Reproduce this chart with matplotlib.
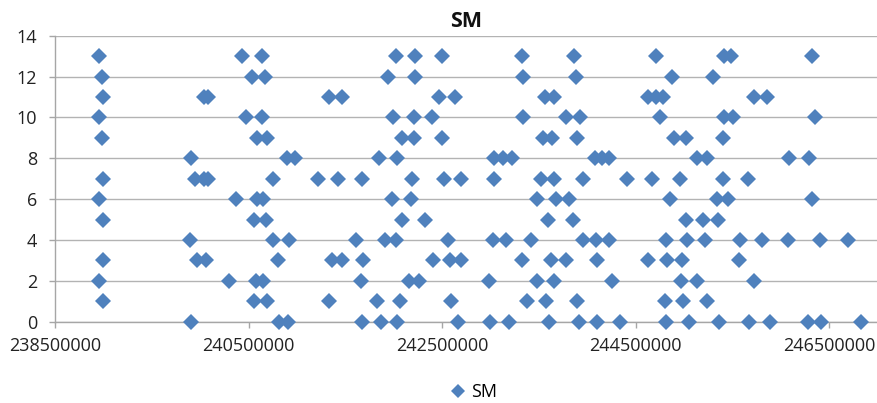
import matplotlib
matplotlib.use("Agg")
import matplotlib.pyplot as plt
from matplotlib.ticker import FixedLocator, FuncFormatter

# Positions (bp) of SM points at each y level
sm_y13 = [238955000, 240433000, 240640000, 242025000, 242221000, 242500000, 243327000,
          243864000, 244712000, 245415000, 245487000, 246324000]
sm_y12 = [238986000, 240536000, 240671000, 241942000, 242221000, 243337000, 243885000,
          244877000, 245301000]
sm_y11 = [238996000, 240040000, 240081000, 241332000, 241466000, 242469000, 242634000,
          243565000, 243658000, 244629000, 244712000, 244784000, 245725000, 245859000]
sm_y10 = [238955000, 240474000, 240640000, 241994000, 242211000, 242397000, 243337000,
          243782000, 243926000, 244753000, 245415000, 245508000, 246355000]
sm_y9 = [238986000, 240588000, 240691000, 242087000, 242211000, 242500000, 243544000,
         243637000, 243895000, 244898000, 245022000, 245404000]
sm_y8 = [239906000, 240898000, 240981000, 241849000, 242035000, 243037000, 243130000,
         243223000, 244081000, 244154000, 244226000, 245136000, 245239000, 246087000,
         246293000]
sm_y7 = [238996000, 239947000, 240040000, 240081000, 240753000, 241218000, 241425000,
         241673000, 242190000, 242521000, 242696000, 243037000, 243523000, 243658000,
         243957000, 244412000, 244671000, 244960000, 245404000, 245663000]
sm_y6 = [238955000, 240371000, 240588000, 240650000, 241983000, 242180000, 243482000,
         243678000, 243813000, 244857000, 245342000, 245456000, 246324000]
sm_y5 = [238996000, 240557000, 240681000, 242087000, 242324000, 243596000, 243854000,
         245022000, 245198000, 245353000]
sm_y4 = [239895000, 240753000, 240919000, 241611000, 241911000, 242025000, 242562000,
         243027000, 243161000, 243420000, 243957000, 244092000, 244226000, 244815000,
         245032000, 245218000, 245580000, 245808000, 246076000, 246407000, 246696000]
sm_y3 = [238996000, 239968000, 240061000, 240805000, 241363000, 241466000, 241684000,
         242407000, 242583000, 242696000, 243327000, 243627000, 243782000, 244102000,
         244629000, 244826000, 244981000, 245570000]
sm_y2 = [238955000, 240298000, 240578000, 240650000, 241663000, 242159000, 242262000,
         242986000, 243482000, 243658000, 244257000, 244970000, 245136000, 245725000]
sm_y1 = [238996000, 240557000, 240691000, 241332000, 241828000, 242066000, 242593000,
         243379000, 243575000, 243895000, 244805000, 244991000, 245239000]
sm_y0 = [239906000, 240815000, 240908000, 241673000, 241870000, 242035000, 242665000,
         242996000, 243192000, 243606000, 243916000, 244102000, 244340000, 244815000,
         245053000, 245363000, 245673000, 245890000, 246283000, 246417000, 246831000]

levels = [0, 1, 2, 3, 4, 5, 6, 7, 8, 9, 10, 11, 12, 13]
level_positions = [sm_y0, sm_y1, sm_y2, sm_y3, sm_y4, sm_y5, sm_y6, sm_y7,
                   sm_y8, sm_y9, sm_y10, sm_y11, sm_y12, sm_y13]

x_ticks = [238500000, 240500000, 242500000, 244500000, 246500000]
y_ticks = [0, 2, 4, 6, 8, 10, 12, 14]

xs, ys = [], []
for lv, pos in zip(levels, level_positions):
    xs.extend(pos)
    ys.extend([lv] * len(pos))

plt.rcParams['font.family'] = ['Open Sans', 'DejaVu Sans']

fig = plt.figure(figsize=(8.77, 4.03), dpi=100)
ax = fig.add_axes([55 / 877, 1 - 321.7 / 403, 1 - 55 / 877, (321.7 - 35.7) / 403])

blue = '#4F81BD'
ax.plot(xs, ys, linestyle='none', marker='D', markersize=8.6, color=blue,
        markeredgewidth=0, label='SM', zorder=3, clip_on=False)

ax.set_xlim(238500000, 246996000)
ax.set_ylim(0, 14)
ax.xaxis.set_major_locator(FixedLocator(x_ticks))
ax.yaxis.set_major_locator(FixedLocator(y_ticks))
ax.xaxis.set_major_formatter(FuncFormatter(lambda v, p: f"{int(round(v))}"))
ax.yaxis.set_major_formatter(FuncFormatter(lambda v, p: f"{int(round(v))}"))

grid_c = '#B3B3B3'
ax.grid(axis='y', color=grid_c, linewidth=1.0, zorder=0)
ax.set_axisbelow(True)
for s in ['top', 'right']:
    ax.spines[s].set_visible(False)
for s in ['left', 'bottom']:
    ax.spines[s].set_color('#A6A6A6')
    ax.spines[s].set_linewidth(1.0)
ax.tick_params(axis='both', colors='#A6A6A6', labelcolor='#222222', labelsize=13,
               length=4, width=1.0, direction='out')
ax.tick_params(axis='x', pad=7)
ax.tick_params(axis='y', pad=9)

ax.set_title('SM', fontsize=15.5, fontweight='bold', pad=6, color='#111111')

fig.legend(loc='center', bbox_to_anchor=(474 / 877, 1 - 392 / 403), frameon=False,
           fontsize=13, handlelength=0.8, handletextpad=0.3, markerscale=0.85)

fig.savefig('out.png', dpi=100)
